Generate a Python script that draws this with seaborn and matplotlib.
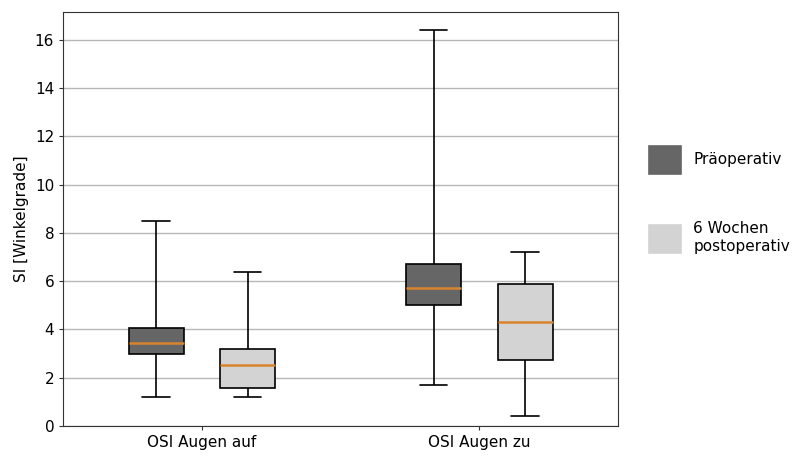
import pandas as pd
import matplotlib
matplotlib.use("Agg")
import matplotlib.pyplot as plt
import seaborn as sns

# five-number summaries: min, Q1, median, Q3, max
groups = ["OSI Augen auf", "OSI Augen zu"]
phases = ["Präoperativ", "6 Wochen\npostoperativ"]
prae_auf = [1.2, 3.0, 3.45, 4.05, 8.5]
post_auf = [1.2, 1.56, 2.52, 3.19, 6.4]
prae_zu = [1.7, 5.0, 5.7, 6.72, 16.4]
post_zu = [0.42, 2.74, 4.32, 5.88, 7.2]
colors = ["#666666", "#d3d3d3"]

rows = []
for grp, prae, post in zip(groups, [prae_auf, prae_zu], [post_auf, post_zu]):
    for v in prae:
        rows.append((grp, phases[0], v))
    for v in post:
        rows.append((grp, phases[1], v))
df = pd.DataFrame(rows, columns=["Gruppe", "Zeitpunkt", "SI"])

sns.set_style("ticks")
plt.rcParams['font.family'] = ['DejaVu Sans']
plt.rcParams['text.color'] = 'black'
plt.rcParams['axes.labelcolor'] = 'black'
plt.rcParams['xtick.color'] = '#333333'
plt.rcParams['ytick.color'] = '#333333'
plt.rcParams['xtick.labelcolor'] = 'black'
plt.rcParams['ytick.labelcolor'] = 'black'

fig = plt.figure(figsize=(8, 4.62), dpi=100)
ax = fig.add_axes([0.079, 0.078, 0.6935, 0.896])

sns.boxplot(data=df, x="Gruppe", y="SI", hue="Zeitpunkt",
            palette=colors, whis=(0, 100),
            width=0.66, gap=0.4, linecolor="black", linewidth=1.2,
            medianprops=dict(color="#d8842f", linewidth=1.8),
            ax=ax)

handles, labels = ax.get_legend_handles_labels()
ax.get_legend().remove()
for h, c in zip(handles, colors):
    h.set_edgecolor(c)
fig.legend(handles, labels, loc="center left", bbox_to_anchor=(0.794, 0.568),
           frameon=False, handleheight=2.45, handlelength=2.1,
           labelspacing=3.1, fontsize=11)

ax.set_ylim(0, 17.16)
ax.set_xlim(-0.5, 1.5)
ax.set_yticks(range(0, 17, 2))
ax.set_xlabel("")
ax.set_ylabel("SI [Winkelgrade]", fontsize=11)
ax.tick_params(labelsize=11, length=3)
ax.yaxis.grid(True, color="#b8b8b8", linewidth=1)
ax.set_axisbelow(True)
for s in ax.spines.values():
    s.set_visible(True)
    s.set_color("#333333")

fig.savefig("out.png", dpi=100)
